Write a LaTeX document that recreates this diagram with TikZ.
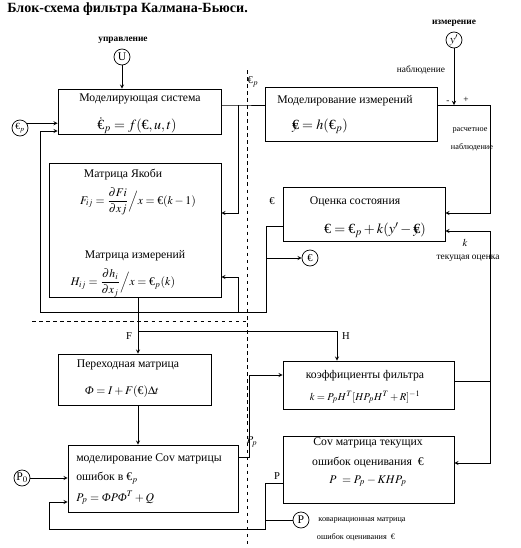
\documentclass[tikz,border=0pt]{standalone}
\usepackage{amsmath}
\usepackage{mathptmx}
\usepackage{fontspec}
\setmainfont{Liberation Serif}
\usetikzlibrary{arrows}
\newcommand{\xh}{\text{€}}
\newcommand{\yh}{\text{\rlap{$y$}€}}
\newcommand{\Fi}{\text{\itshape Φ}}

\begin{document}
\begin{tikzpicture}[
            x = 0.03cm, y = -0.03cm, % one unit = one pixel of the sheet
            > = stealth, % arrow head style
            semithick, % line style
            block/.style = {shape=rectangle,draw,inner sep=0pt},
            port/.style = {shape=circle,draw,inner sep=0pt,minimum size=0.48cm},
            note/.style = {font=\fontsize{8}{9}\selectfont},
            tiny/.style = {font=\fontsize{7}{8}\selectfont},
            bus/.style = {dashed,thin}
        ]
        \useasboundingbox (0,0) rectangle (520,548);

        % title
        \node[anchor=west,font=\fontsize{12}{14}\selectfont\bfseries] (title) at (3,9) {Блок-схема фильтра Калмана-Бьюси.};

        % blocks
        \node[block,minimum width=4.89cm,minimum height=1.35cm] (sim)   at (139.5,111.5) {};
        \node[block,minimum width=5.16cm,minimum height=1.62cm] (meas)  at (351,114)     {};
        \node[block,minimum width=5.16cm,minimum height=4.02cm] (jac)   at (135,230)     {};
        \node[block,minimum width=4.86cm,minimum height=1.62cm] (est)   at (364,214)     {};
        \node[block,minimum width=4.59cm,minimum height=1.53cm] (trans) at (134.5,379.5) {};
        \node[block,minimum width=5.13cm,minimum height=1.44cm] (gain)  at (368.5,385)   {};
        \node[block,minimum width=5.10cm,minimum height=2.01cm] (pp)    at (153,478.5)   {};
        \node[block,minimum width=5.13cm,minimum height=2.01cm] (cov)   at (368.5,469.5) {};

        % block texts
        \node (simT)   at (140,99)  {Моделирующая система};
        \node (simF)   at (137,126) {\large $\dot{\xh}_p = f(\xh,u,t)$};
        \node (measT)  at (345,101) {Моделирование измерений};
        \node (measF)  at (320,126) {\large $\yh = h(\xh_p)$};
        \node (jacT)   at (123,175) {Матрица Якоби};
        \node (jacF)   at (138,201) {$F_{ij} = \dfrac{\partial Fi}{\partial xj}\Big/ x = \xh(k-1)$};
        \node (jacT2)  at (135,256) {Матрица измерений};
        \node (jacF2)  at (123,283) {$H_{ij} = \dfrac{\partial h_i}{\partial x_j}\Big/ x = \xh_p(k)$};
        \node (estT)   at (355,202) {Оценка состояния};
        \node (estF)   at (375,230) {\large $\xh = \xh_p + k(y' - \yh)$};
        \node (transT) at (128,365) {Переходная матрица};
        \node (transF) at (122,392) {$\Fi = I + F(\xh)\Delta t$};
        \node (gainT)  at (365,376) {коэффициенты фильтра};
        \node (gainF)  at (365,397) {\small $k = P_p H^T [H P_p H^T + R]^{-1}$};
        \node[anchor=west] (ppT1) at (72,459) {моделирование Cov матрицы};
        \node[anchor=west] (ppT2) at (72,478) {ошибок в $\xh_p$};
        \node[anchor=west] (ppF)  at (72,498) {$P_p = \Fi P \Fi^T + Q$};
        \node (covT1)  at (368,443) {Cov матрица текущих};
        \node (covT2)  at (368,462) {ошибок оценивания \ \xh};
        \node (covF)   at (368,481) {$P\ = P_p - KHP_p$};

        % inputs and outputs
        \node[port] (u)    at (122,57)  {U};
        \node[port] (yin)  at (454,40)  {$y'$};
        \node[port] (xpin) at (20,128)  {\footnotesize $\xh_p$};
        \node[port] (xout) at (310,258) {\small \xh};
        \node[port] (p0)   at (22,478)  {P$_0$};
        \node[port] (pout) at (301,520) {P};

        % labels
        \node[note,font=\fontsize{8}{9}\selectfont\bfseries] (uL) at (123,40) {управление};
        \node[note,font=\fontsize{8}{9}\selectfont\bfseries] (yL) at (454,23) {измерение};
        \node[note] (obsL)  at (421,70)  {наблюдение};
        \node[note] (minus) at (448,102) {-};
        \node[note] (plus)  at (466,100) {+};
        \node[tiny] (calc1) at (470,130) {расчетное};
        \node[tiny] (calc2) at (472,147) {наблюдение};
        \node (xpL)   at (253,82)  {\small $\xh_p$};
        \node (xL)    at (272,201) {\small \xh};
        \node (kL)    at (465,243) {\small $k$};
        \node[note] (curL)  at (468,258) {текущая оценка};
        \node (fL)    at (129,336) {\small F};
        \node (hL)    at (346,336) {\small H};
        \node (ppL)   at (252,442) {\small $P_p$};
        \node (pL)    at (277,476) {\small P};
        \node[tiny] (covL1) at (362,520) {ковариационная матрица};
        \node[tiny] (covL2) at (356,537) {ошибок оценивания \ \xh};

        % junctions
        \coordinate (xp)   at (238,105);
        \coordinate (ysum) at (454,105);
        \coordinate (yr)   at (490,105);
        \coordinate (fb1)  at (266,226);
        \coordinate (fbo)  at (266,258);
        \coordinate (fb2)  at (266,312);
        \coordinate (fbh)  at (238,312);
        \coordinate (fb3)  at (40,312);
        \coordinate (fb4)  at (40,131);
        \coordinate (fj)   at (138,331);
        \coordinate (pq)   at (249,457);
        \coordinate (kj)   at (490,381);
        \coordinate (c1)   at (265,483);
        \coordinate (c5)   at (265,520);
        \coordinate (c2)   at (265,529);
        \coordinate (c3)   at (49,529);
        \coordinate (c4)   at (49,502);

        % dashed split lines
        \draw[bus] (247,70) -- (247,548);
        \draw[bus] (32,321) -- (247,321);

        % connectors
        \draw[->] (u) -- (u |- sim.north);
        \draw[->] (xpin.35) -- (xpin.35 -| sim.west);
        \draw (sim.east |- xp) -- (xp) -- (xp -| meas.west);
        \draw[->] (xp) |- (jac.east |- 0,213);
        \draw[->] (yin) -- (ysum);
        \draw[->] (meas.east |- yr) -- (yr) |- (est.east |- 0,213);
        \draw[->] (est.west |- fb1) -- (fb1) -- (fb2) -- (fb3) -- (fb4) -- (fb4 -| sim.west);
        \draw[->] (fbo) -- (xout);
        \draw[->] (fbh) |- (jac.east |- 0,277);
        \draw[->] (fj |- jac.south) -- (fj |- trans.north);
        \draw[->] (fj) -| (gain.north -| 337,0);
        \draw[->] (fj |- trans.south) -- (fj |- pp.north);
        \draw[->] (pp.east |- pq) -- (pq) |- (gain.west |- 0,375);
        \draw[->] (p0) -- (p0 -| pp.west);
        \draw[->] (cov.west |- c1) -- (c1) -- (c2) -- (c3) -- (c4) -- (c4 -| pp.west);
        \draw (c5) -- (pout);
        \draw (gain.east |- kj) -- (kj);
        \draw[->] (kj) |- (est.east |- 0,231);
        \draw[->] (kj) |- (cov.east |- 0,463);
    \end{tikzpicture}
\end{document}
